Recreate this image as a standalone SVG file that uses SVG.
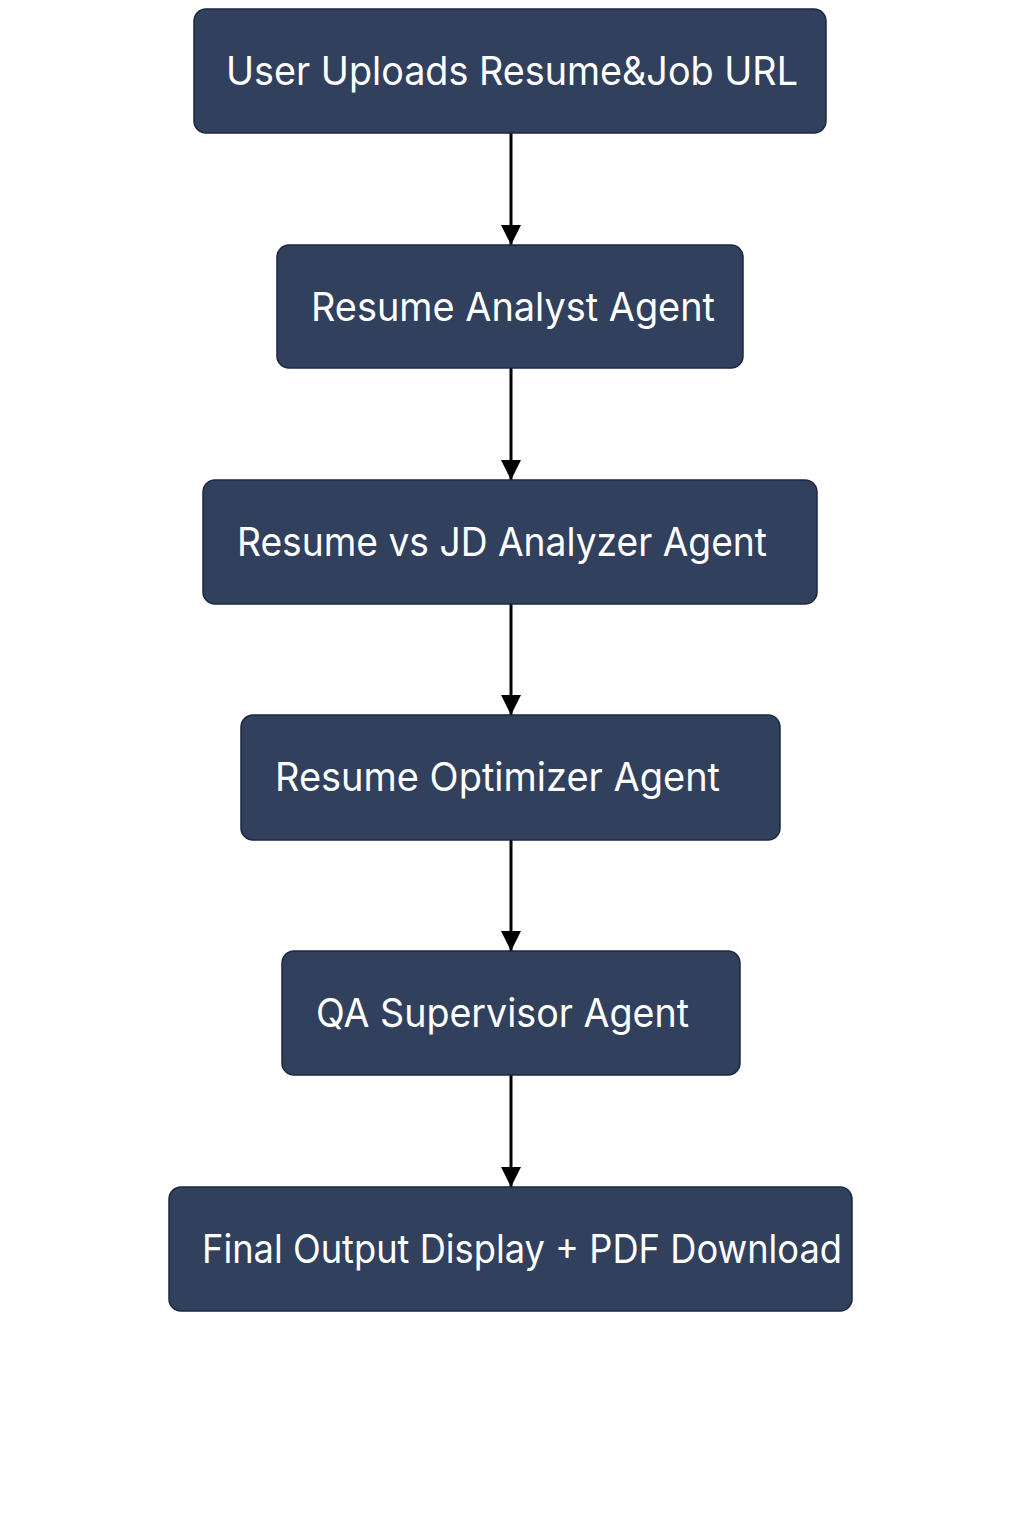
<svg xmlns="http://www.w3.org/2000/svg" width="1024" height="1536" viewBox="0 0 1024 1536">
<defs>
<style>
.box{fill:#31405c;stroke:#1c2740;stroke-width:1.5}
.lbl{fill:#ffffff;font-family:Inter,"Noto Sans",sans-serif;font-size:39px}
.conn{stroke:#000;stroke-width:3;fill:none}
</style>
<marker id="ah" markerWidth="22" markerHeight="20" refX="22" refY="11" orient="auto" markerUnits="userSpaceOnUse" viewBox="0 0 22 22">
<path d="M0,0 L22,11 L0,22 Z" fill="#000"/>
</marker>
</defs>
<rect width="1024" height="1536" fill="#ffffff"/>
<g id="connectors">
<line class="conn" x1="511" y1="133" x2="511" y2="245" marker-end="url(#ah)"/>
<line class="conn" x1="511" y1="368" x2="511" y2="480" marker-end="url(#ah)"/>
<line class="conn" x1="511" y1="604" x2="511" y2="715" marker-end="url(#ah)"/>
<line class="conn" x1="511" y1="840" x2="511" y2="951" marker-end="url(#ah)"/>
<line class="conn" x1="511" y1="1075" x2="511" y2="1187" marker-end="url(#ah)"/>
</g>
<g id="n1"><rect class="box" x="194" y="9" width="632" height="124" rx="12"/><text class="lbl" x="226" y="85" textLength="572" lengthAdjust="spacingAndGlyphs">User Uploads Resume&amp;Job URL</text></g>
<g id="n2"><rect class="box" x="277" y="245" width="466" height="123" rx="12"/><text class="lbl" x="311" y="321" textLength="404" lengthAdjust="spacingAndGlyphs">Resume Analyst Agent</text></g>
<g id="n3"><rect class="box" x="203" y="480" width="614" height="124" rx="12"/><text class="lbl" x="237" y="556" textLength="530" lengthAdjust="spacingAndGlyphs">Resume vs JD Analyzer Agent</text></g>
<g id="n4"><rect class="box" x="241" y="715" width="539" height="125" rx="12"/><text class="lbl" x="275" y="791" textLength="445" lengthAdjust="spacingAndGlyphs">Resume Optimizer Agent</text></g>
<g id="n5"><rect class="box" x="282" y="951" width="458" height="124" rx="12"/><text class="lbl" x="316" y="1027" textLength="373" lengthAdjust="spacingAndGlyphs">QA Supervisor Agent</text></g>
<g id="n6"><rect class="box" x="169" y="1187" width="683" height="124" rx="12"/><text class="lbl" x="202" y="1263" textLength="640" lengthAdjust="spacingAndGlyphs">Final Output Display + PDF Download</text></g>
</svg>
